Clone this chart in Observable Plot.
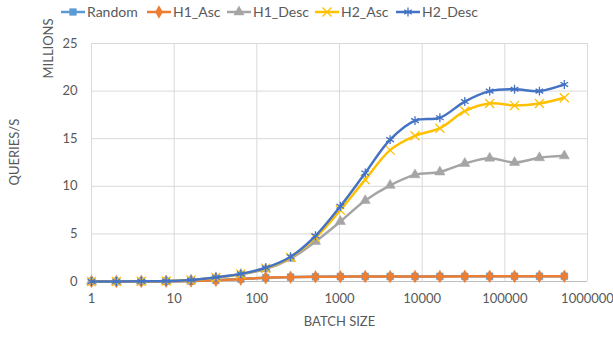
<!DOCTYPE html>
<html>
<head>
<meta charset="utf-8">
<script src="https://cdn.jsdelivr.net/npm/d3@7"></script>
<script src="https://cdn.jsdelivr.net/npm/@observablehq/plot@0.6"></script>
<style>
  body { margin: 0; background: #fff; font-family: Lato, "Open Sans", sans-serif; }
  #wrap { position: relative; width: 613px; height: 339px; }
  #legend { position: relative; height: 28px; width: 613px; }
  .item { position: absolute; top: 3px; display: flex; align-items: center; font-size: 14px; color: #595959; }
  .item svg { margin-right: 2px; }
</style>
</head>
<body>
<div id="wrap">
  <div id="legend"></div>
  <div id="chart"></div>
</div>
<script>
const batchSizes = [1,2,4,8,16,32,64,128,256,512,1024,2048,4096,8192,16384,32768,65536,131072,262144,524288];
const random  = [0.00,0.00,0.01,0.02,0.05,0.13,0.26,0.40,0.46,0.50,0.52,0.53,0.53,0.53,0.54,0.54,0.55,0.55,0.55,0.55];
const h1Asc   = [0.00,0.00,0.01,0.02,0.05,0.12,0.25,0.39,0.45,0.49,0.51,0.52,0.52,0.53,0.53,0.54,0.54,0.54,0.54,0.55];
const h1Desc  = [0.00,0.00,0.02,0.05,0.14,0.40,0.75,1.30,2.40,4.20,6.30,8.50,10.1,11.2,11.5,12.4,12.95,12.5,13.0,13.2];
const h2Asc   = [0.00,0.00,0.02,0.05,0.15,0.42,0.78,1.38,2.55,4.60,7.50,10.7,13.8,15.3,16.1,17.9,18.7,18.5,18.7,19.3];
const h2Desc  = [0.00,0.00,0.02,0.05,0.15,0.45,0.80,1.44,2.60,4.80,7.90,11.4,14.9,16.9,17.2,18.9,20.0,20.2,20.0,20.7];
const seriesNames = ["Random","H1_Asc","H1_Desc","H2_Asc","H2_Desc"];
const xTicks = [1,10,100,1000,10000,100000,1000000];
const yTicks = [0,5,10,15,20,25];

const seriesValues = [random, h1Asc, h1Desc, h2Asc, h2Desc];
const colors = ["#5B9BD5","#ED7D31","#A5A5A5","#FFC000","#4472C4"];
const symbols = ["square","diamond","triangle","times","asterisk"];
const filled = [true,true,true,false,false];
const legendLeft = [61,147,227,315,396];

const data = [];
seriesNames.forEach((s,i) => batchSizes.forEach((b,j) => data.push({series:s, x:b, y:seriesValues[i][j]})));

const marks = [
  Plot.gridX(xTicks.slice(1), {stroke:"#d9d9d9", strokeOpacity:1, strokeWidth:1}),
  Plot.gridY(yTicks.slice(1), {stroke:"#d9d9d9", strokeOpacity:1, strokeWidth:1}),
  Plot.ruleY([0], {stroke:"#bfbfbf", strokeWidth:1}),
  Plot.ruleX([1], {stroke:"#d9d9d9", strokeWidth:1}),
];
seriesNames.forEach((s,i) => {
  const d = data.filter(r => r.series === s);
  marks.push(Plot.line(d, {x:"x", y:"y", stroke:colors[i], strokeWidth:2.5, curve:"catmull-rom"}));
  marks.push(Plot.dot(d, {x:"x", y:"y", symbol:()=>symbols[i], r: filled[i] ? 3.8 : 4.2,
    fill: filled[i] ? colors[i] : "none", stroke: colors[i], strokeWidth: filled[i] ? 0.5 : 1.3}));
});
marks.push(Plot.axisX({ticks:xTicks, tickFormat:d=>String(d), tickSize:0, tickPadding:12, label:null, fontSize:13, color:"#595959"}));
marks.push(Plot.axisY({ticks:yTicks, tickSize:0, tickPadding:14, label:null, fontSize:13, color:"#595959"}));
marks.push(Plot.text(["QUERIES/S"], {frameAnchor:"left", dx:-77, dy:23, rotate:-90, fontSize:13, fill:"#595959"}));
marks.push(Plot.text(["MILLIONS"], {frameAnchor:"left", dx:-43, dy:-84, rotate:-90, fontSize:13, fill:"#595959"}));
marks.push(Plot.text(["BATCH SIZE"], {frameAnchor:"bottom", dy:44, fontSize:13, fill:"#595959"}));

const chart = Plot.plot({
  width: 613, height: 311,
  marginLeft: 91, marginRight: 26, marginTop: 15, marginBottom: 58,
  style: {fontFamily: "Lato, 'Open Sans', sans-serif", background: "white", overflow: "visible"},
  x: {type: "log", domain: [1, 1000000]},
  y: {domain: [0, 25]},
  marks
});
document.getElementById("chart").appendChild(chart);

// legend built with Plot-like symbols via d3
const legend = document.getElementById("legend");
seriesNames.forEach((s,i) => {
  const div = document.createElement("div");
  div.className = "item";
  div.style.left = legendLeft[i] + "px";
  const svg = d3.create("svg").attr("width", 24).attr("height", 16);
  svg.append("line").attr("x1",0).attr("x2",24).attr("y1",8).attr("y2",8).attr("stroke",colors[i]).attr("stroke-width",2.5);
  const symMap = {square:d3.symbolSquare, diamond:d3.symbolDiamond, triangle:d3.symbolTriangle, times:d3.symbolTimes, asterisk:d3.symbolAsterisk};
  const size = filled[i] ? 45 : 55;
  svg.append("path").attr("d", d3.symbol(symMap[symbols[i]], size)()).attr("transform","translate(12,8)")
    .attr("fill", filled[i] ? colors[i] : "none").attr("stroke", colors[i]).attr("stroke-width", filled[i] ? 0.5 : 1.3);
  div.appendChild(svg.node());
  const span = document.createElement("span");
  span.textContent = s;
  div.appendChild(span);
  legend.appendChild(div);
});
</script>
</body>
</html>
